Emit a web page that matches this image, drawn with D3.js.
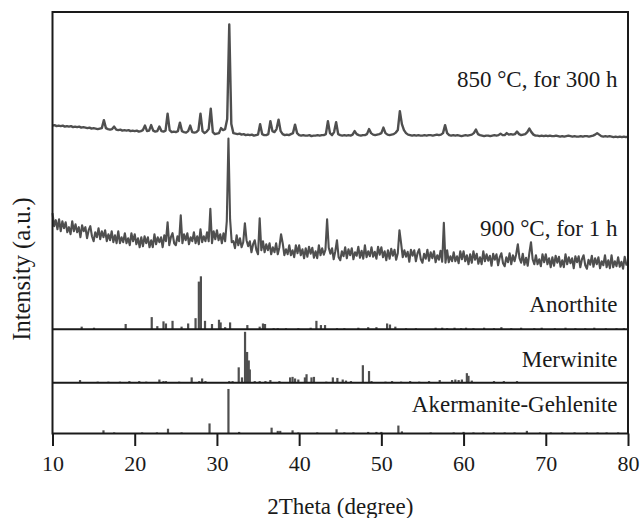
<!DOCTYPE html>
<html><head><meta charset="utf-8">
<script src="https://cdn.jsdelivr.net/npm/d3@7"></script>
<style>
html,body{margin:0;padding:0;background:#fff;}
svg{display:block;}
text{font-family:"Liberation Serif","Times New Roman",serif;fill:#1a1a1a;}
</style></head><body>
<svg id="chart" width="643" height="518"></svg>
<script>
// ---------------- DATA ----------------
const xTicks = [10, 20, 30, 40, 50, 60, 70, 80];

// 850 °C, 300 h  (stacked intensity, a.u.), 2θ from 10° in 0.25° steps
const start850 = 10, step850 = 0.25;
const curve850 = [
203.5,204,203,203.5, 203,203.5,202.5,203, 202.5,203,202,202.5, 202,202.5,201.5,202,
201.5,201,201.5,200.5, 201,200.5,200,200.5, 201,209,201,200, 199.5,200,202.5,199.5,
199,199.5,198.5,199, 198.5,199,198,198.5, 198,198.5,197.5,198, 199,203.5,198,198.5,
204,198.5,197.5,198, 202.5,198,197.5,198.5, 215.5,199,197,197.5, 197,198,206.5,198,
197,196.5,198,203.5, 197,196.5,197,199, 215.5,198,196,197.5, 200,220.5,197,195,
195.5,196,201,199, 200,210,304.5,205, 196,195.5,195,195.5, 194.5,195,194,194.5,
194,194.5,193.5,194, 194.5,205,195,194, 194,195,208,198, 197,200,209.5,198,
195,194,194.5,194, 195,196,204.5,196, 194,193.5,194,193.5, 193.5,194,193,193.5,
193.5,194,193.5,194, 194,195,208,196, 194,197,207,195, 194,193.5,194,193.5,
194,193.5,194.5,198, 195,194,193.5,194, 194,195,200,196, 194.5,194,194.5,195,
196,201.5,196,194.5, 194,194.5,195,196.5, 199,218,205,199, 196,194.5,194,193.5,
194,193.5,194,193.5, 193.5,194,193.5,194, 194,193.5,194,194.5, 194,194.5,196,204,
196,194,193.5,194, 193.5,194,193.5,193, 193.5,194,193.5,194, 194.5,196,199.5,195,
194,193.5,193,193.5, 193.5,193,193.5,194, 193.5,194,195.5,194, 194,196,194.5,195,
194.5,195,197.5,195, 194,194.5,195,197, 200.5,197,194.5,193.5, 193.5,193,193.5,193,
193.5,193,193.5,193, 193,193.5,193,192.5, 193,192.5,193,193.5, 193,192.5,193,192.5,
192.5,193,192.5,193, 193,192.5,193,193.5, 194.5,196,194.5,193, 192.5,193,192.5,193,
192.5,192,192.5,192, 192.5,192,192.5,192, 192.5
];

// 900 °C, 1 h  (stacked intensity, a.u.), 2θ from 10° in 0.2° steps
const start900 = 10, step900 = 0.2;
const curve900 = [
116,103,109,100,110, 98,108,101,107,97, 102,95,108,98,105, 97,102,92,104,98,
102,91,99,103,93, 88,97,92,101,90, 98,92,99,88,95, 89,98,87,94,86,
98,86,92,87,96, 86,91,84,96,88, 95,85,91,82,92, 83,93,86,92,82,
89,82,95,85,92, 87,92,82,94,88, 107,84,92,96,86, 84,93,88,114,86,
95,89,96,85,92, 88,97,86,93,85, 100,87,93,88,97, 88,120.5,86,98,90,
99,89,95,86,96, 88,108,190.5,110,87, 88,81,94,84,91, 82,87,106,89,83,
88,77,85,89,79, 75,111,79,88,77, 85,79,86,75,82, 77,86,75,82,95,
86,74,80,75,84, 74,79,72,84,76, 84,74,80,71,81, 72.5,82.5,75.5,81.5,71.5,
78,71,84,74,81, 74.5,79.5,110,81.5,75.5, 81,70,78,89,72, 69,78,73,82,71,
80,74,81,70,77, 73.5,82.5,71.5,78.5,70.5, 84,72,78,73,82, 72.5,77.5,70.5,82.5,74.5,
82,72,78,69,79, 70.5,80.5,73.5,79.5,69.5, 76,99,86,72,79, 72.5,77.5,67.5,79.5,73.5,
79,68,76,80,70, 66.5,75.5,70.5,79.5,68.5, 77,71,78,67,74, 69.5,78.5,67.5,106.5,66.5,
79,67,73,68,77, 68,73,66,78,70, 78,68,74,65,75, 66.5,78,69.5,75.5,65.5,
72,65,78,68,75, 68.5,73.5,63.5,75.5,69.5, 75,64,72,76,66, 63,72,67,76,65,
74,68,75,85,71, 66.5,75.5,64.5,71.5,63.5, 76,87,70,65,74, 65,70,63,75,67,
75,65,71,62,72, 63.5,73.5,66.5,72.5,62.5, 69,62,75,65,72, 66,71,61,73,67,
73,62,70,74,64, 60.5,69.5,64.5,73.5,62.5, 71,65,72,61,68, 64,74,62,69,61,
74,62,68,63,72, 62.5,67.5,60.5,72.5,64.5, 66
];

const curveLabels = ["850 °C, for 300 h", "900 °C, for 1 h"];
const phaseNames = ["Anorthite", "Merwinite", "Akermanite-Gehlenite"];

// reference patterns: [2θ, relative intensity]
const anorthite = [
[13.55,5],[15.05,3],[18.9,10],[22.07,23],[22.75,6],[23.5,15],[23.8,11],[24.6,16],[25.7,5],
[26.5,11],[27.4,21],[27.8,90],[28.05,100],[28.55,16],[29.4,10],[30.25,18],[30.45,13],[31.0,4],
[31.6,13],[33.7,8],[35.2,5],[35.6,11],[35.85,10],[36.9,2],[37.4,2],[38.4,2],[39.9,2],[41.4,3],
[42.1,16],[42.65,8],[43.15,8],[44.6,2],[45.5,2],[47.2,3],[48.4,4],[49.4,4],[50.7,11],[51.05,9],
[51.7,5],[53.0,2],[54.2,2],[56.6,3],[57.4,3],[58.0,2],[58.9,3],[59.7,2],[60.3,3],[61.2,2],
[62.5,3],[63.7,2],[64.6,4],[65.8,2],[67.0,3],[68.6,2],[69.5,3],[71.1,2],[72.4,3],[73.6,2],
[74.8,2],[75.9,3],[77.3,2],[78.6,2],[79.5,2]
];
const merwinite = [
[13.35,5],[15.5,2],[16.8,2],[18.2,2],[19.35,3],[20.55,3],[21.4,2],[23.0,6],[23.5,3],[23.8,3],
[25.4,2],[26.93,10],[27.85,3],[28.2,8],[28.6,3],[31.5,3],[31.9,3],[32.65,29],[33.05,10],
[33.42,96],[33.67,58],[33.87,42],[34.0,25],[34.6,3],[35.2,3],[35.9,3],[36.5,5],[37.6,3],
[38.9,10],[39.2,11],[39.5,8],[39.9,6],[40.7,10],[40.9,16],[41.5,10],[41.8,11],[43.3,2],
[44.1,10],[44.65,9],[45.3,6],[45.7,4],[46.3,3],[47.75,33],[48.5,22],[48.8,3],[50.5,2],
[51.3,3],[52.4,2],[53.5,3],[54.6,2],[55.8,3],[57.1,5],[58.6,5],[59.0,6],[59.4,5],[59.8,6],
[60.4,18],[60.6,13],[61.0,4],[63.7,3],[64.9,3],[66.5,3]
];
const akermaniteGehlenite = [
[16.2,6],[17.5,2],[20.9,2],[22.7,2],[24.05,9],[25.7,2],[29.1,19],[31.4,84],[32.7,3],
[36.65,11],[37.4,5],[37.7,5],[39.2,6],[39.9,2],[42.2,2],[44.55,8],[45.5,2],[46.6,2],
[48.4,3],[49.4,3],[50.0,3],[52.07,15],[52.5,4],[56.0,2],[58.8,2],[60.0,3],[61.2,2],
[62.4,2],[63.7,2],[65.0,2],[66.2,2],[67.7,5],[69.3,2],[70.6,2],[72.0,2],[73.5,2],
[75.0,2],[76.3,2],[77.4,2],[78.8,2]
];

// ---------------- LAYOUT ----------------
(function () {
const pL = 52.5, pR = 628, pT = 12, pB = 433.5;
const panelBase = [329.3, 382.7, 433.5];   // baselines of the three reference panels
const ink = "#1a1a1a", curveColor = "#4f4f4f";
const fontTick = 22, fontLabel = 23, fontYTitle = 24.5;

const svg = d3.select("#chart");

const x = d3.scaleLinear().domain([10, 80]).range([pL, pR]);
const yCurve = d3.scaleLinear().domain([0, 317]).range([panelBase[0], pT]);
const hStick = d3.scaleLinear().domain([0, 100]).range([0, 53]);

function series(vals, s0, ds) {
  return vals.map((v, i) => [s0 + i * ds, v]);
}
const line = d3.line().x(d => x(d[0])).y(d => yCurve(d[1]));

svg.append("path").datum(series(curve900, start900, step900))
  .attr("fill", "none").attr("stroke", curveColor).attr("stroke-width", 2.1)
  .attr("stroke-linejoin", "round").attr("d", line);
svg.append("path").datum(series(curve850, start850, step850))
  .attr("fill", "none").attr("stroke", curveColor).attr("stroke-width", 2.4)
  .attr("stroke-linejoin", "round").attr("d", line);

[anorthite, merwinite, akermaniteGehlenite].forEach((pat, k) => {
  svg.append("g").selectAll("rect").data(pat).join("rect")
    .attr("x", d => x(d[0]) - 1.1)
    .attr("width", 2.2)
    .attr("y", d => panelBase[k] - hStick(d[1]))
    .attr("height", d => hStick(d[1]))
    .attr("fill", curveColor);
});

svg.append("rect").attr("x", pL).attr("y", pT)
  .attr("width", pR - pL).attr("height", pB - pT)
  .attr("fill", "none").attr("stroke", ink).attr("stroke-width", 2);
panelBase.slice(0, 2).forEach(b => {
  svg.append("line").attr("x1", pL).attr("x2", pR).attr("y1", b).attr("y2", b)
    .attr("stroke", ink).attr("stroke-width", 2);
});

const ax = svg.append("g").attr("transform", `translate(0,${pB})`)
  .call(d3.axisBottom(x).tickValues(xTicks).tickSize(12.5).tickPadding(9).tickFormat(d3.format("d")));
ax.select(".domain").remove();
ax.selectAll(".tick line").attr("stroke", ink).attr("stroke-width", 2);
ax.selectAll(".tick text").attr("font-size", fontTick).attr("font-family", null).attr("fill", ink);

const labelX = 617.5;
const labelY = [87.3, 236, 311.7, 366.7, 411.7];
curveLabels.concat(phaseNames).forEach((t, i) => {
  svg.append("text").attr("x", labelX).attr("y", labelY[i])
    .attr("text-anchor", "end").attr("font-size", fontLabel).text(t);
});

svg.append("text").attr("x", (pL + pR) / 2).attr("y", 514)
  .attr("text-anchor", "middle").attr("font-size", fontLabel).text("2Theta (degree)");
svg.append("text").attr("transform", `translate(30,269) rotate(-90)`)
  .attr("text-anchor", "middle").attr("font-size", fontYTitle).text("Intensity (a.u.)");
})();
</script>
</body></html>
